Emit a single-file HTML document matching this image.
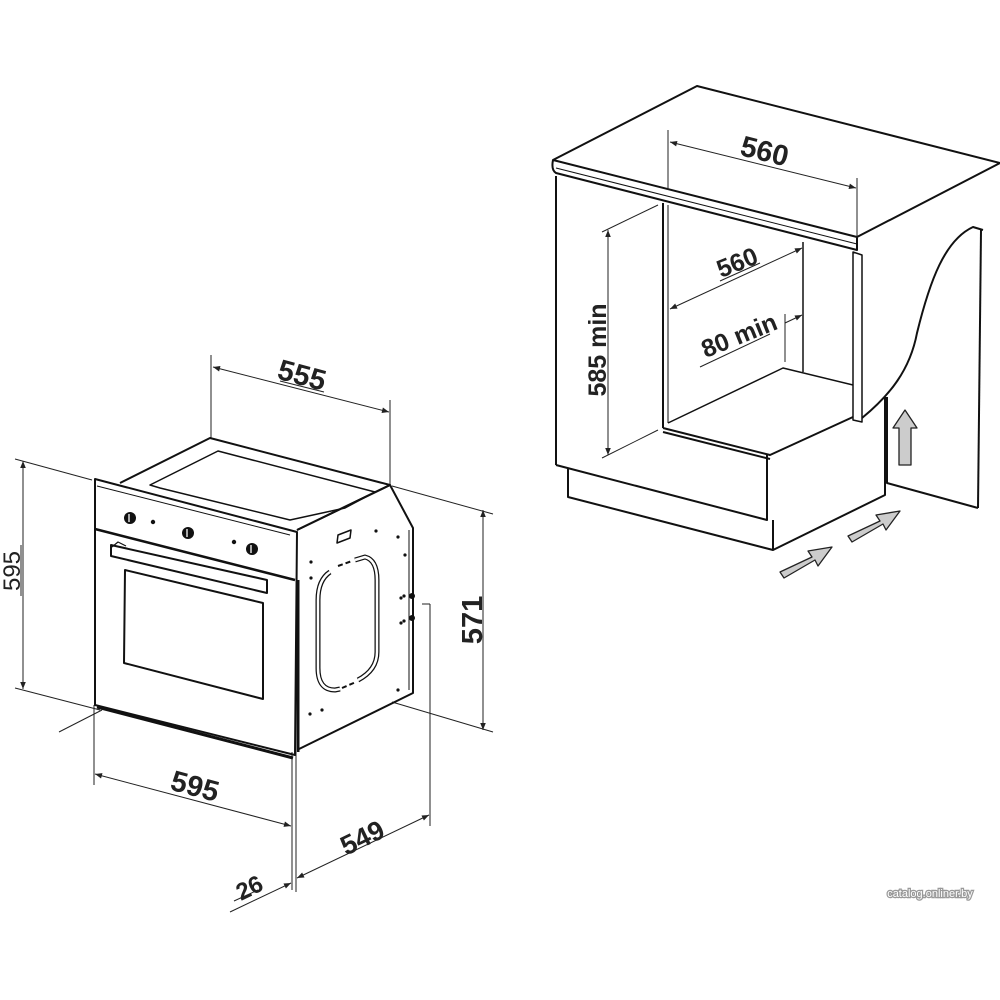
<!DOCTYPE html>
<html><head><meta charset="utf-8"><style>
html,body{margin:0;padding:0;background:#fff}
svg{display:block}
text{font-family:"Liberation Sans",sans-serif;font-weight:bold;fill:#222}
</style></head><body>
<svg width="1000" height="1000" viewBox="0 0 1000 1000" xmlns="http://www.w3.org/2000/svg">
<defs>
<marker id="a" viewBox="0 0 10 10" refX="10" refY="5" markerWidth="12" markerHeight="7" orient="auto-start-reverse" markerUnits="userSpaceOnUse"><path d="M0,1 L10,5 L0,9 z" fill="#222"/></marker>
</defs>
<g fill="none" stroke="#222" stroke-width="1">
<line x1="211" y1="355" x2="211" y2="438"/>
<line x1="390" y1="400" x2="390" y2="485"/>
<line x1="213" y1="367" x2="389" y2="412" marker-start="url(#a)" marker-end="url(#a)"/>
<line x1="280" y1="381" x2="324" y2="392"/>
<line x1="15" y1="459" x2="92" y2="480"/>
<line x1="15" y1="688" x2="100" y2="710"/>
<line x1="23" y1="461" x2="23" y2="689" marker-start="url(#a)" marker-end="url(#a)"/>
<line x1="21" y1="545" x2="21" y2="596"/>
<line x1="392" y1="486" x2="493" y2="514"/>
<line x1="392" y1="702" x2="493" y2="732"/>
<line x1="483" y1="510" x2="483" y2="730" marker-start="url(#a)" marker-end="url(#a)"/>
<line x1="422" y1="604" x2="430" y2="604"/>
<line x1="430" y1="604" x2="430" y2="826"/>
<line x1="59" y1="732" x2="102" y2="710"/>
<line x1="94" y1="705" x2="94" y2="785"/>
<line x1="292" y1="752" x2="292" y2="890"/>
<line x1="296" y1="752" x2="296" y2="892"/>
<line x1="95" y1="774" x2="291" y2="826" marker-start="url(#a)" marker-end="url(#a)"/>
<line x1="297" y1="878" x2="429" y2="815" marker-start="url(#a)" marker-end="url(#a)"/>
<line x1="230" y1="912" x2="291" y2="883" marker-end="url(#a)"/>
<line x1="234" y1="901" x2="258" y2="890"/>
</g>
<text x="302" y="385" font-size="29" transform="rotate(15 302 375)" text-anchor="middle">555</text>
<text x="0" y="0" font-size="24" style="font-weight:normal" transform="translate(20 571) rotate(-90)" text-anchor="middle">595</text>
<text x="0" y="0" font-size="29" transform="translate(482 620) rotate(-90)" text-anchor="middle">571</text>
<text x="195" y="796" font-size="29" transform="rotate(15 195 786)" text-anchor="middle">595</text>
<text x="362" y="847" font-size="27" transform="rotate(-26 362 837)" text-anchor="middle">549</text>
<text x="249" y="896" font-size="24" transform="rotate(-26 249 887)" text-anchor="middle">26</text>

<g fill="none" stroke="#111" stroke-width="2" stroke-linejoin="round">
<path d="M120,483 L210,438 L390,485 L297,530"/>
<path d="M150,485 L218,451 L375,492 L345,508 L290,520 L160,488 Z" stroke-width="1.5"/>
<path d="M95,479 L297,532 L295,755 L95,705 Z"/>
<line x1="95" y1="529" x2="295" y2="580" stroke-width="2.5"/>
<line x1="97" y1="486" x2="290" y2="535" stroke-width="1"/>
<line x1="97" y1="707" x2="293" y2="758" stroke-width="3"/>
<path d="M125,570 L263,603 L263,699 L124,663 Z"/>
<path d="M111,545 L267,580 L267,593 L111,556 Z"/>
<path d="M112,547 L118,542 L126,546" stroke-width="1.2"/>
<path d="M297,530 L390,485 L413,528 L413,693 L297,750"/>
<line x1="409" y1="530" x2="409" y2="690" stroke-width="1"/>
<line x1="298" y1="580" x2="298" y2="752" stroke-width="3"/>
<path d="M337,543 L350,538 L351,530 L338,535 Z" stroke-width="1.5"/>
<path d="M330,572 Q318,580 318,600 L318,668 Q318,690 335,690 L340,689 M358,680 Q377,670 377,652 L377,580 Q377,560 365,557 L355,560" stroke-width="5"/>
<path d="M330,572 Q318,580 318,600 L318,668 Q318,690 335,690 L340,689 M358,680 Q377,670 377,652 L377,580 Q377,560 365,557 L355,560" stroke="#fff" stroke-width="2.5"/>
<line x1="338" y1="566" x2="352" y2="561" stroke-dasharray="5 3"/>
<line x1="342" y1="688" x2="356" y2="682" stroke-dasharray="5 3"/>
</g>
<g fill="#111">
<circle cx="130" cy="518" r="6"/><circle cx="188" cy="533" r="6"/><circle cx="252" cy="549" r="6"/>
<circle cx="153" cy="522" r="2.2"/><circle cx="234" cy="542" r="2.2"/>
<circle cx="311" cy="562" r="1.6"/><circle cx="311" cy="578" r="1.6"/><circle cx="376" cy="531" r="1.6"/><circle cx="398" cy="537" r="1.6"/><circle cx="405" cy="555" r="1.6"/>
<circle cx="401" cy="598" r="1.6"/><circle cx="404" cy="596" r="1.6"/><circle cx="401" cy="623" r="1.6"/><circle cx="404" cy="621" r="1.6"/>
<circle cx="398" cy="690" r="1.6"/><circle cx="310" cy="714" r="1.6"/><circle cx="322" cy="710" r="1.6"/>
<circle cx="412" cy="596" r="3"/><circle cx="412" cy="618" r="3"/>
</g>
<g stroke="#fff" stroke-width="1.3"><line x1="129" y1="514" x2="129" y2="522"/><line x1="187" y1="529" x2="187" y2="537"/><line x1="251" y1="545" x2="251" y2="553"/></g>

<g fill="none" stroke="#111" stroke-width="2" stroke-linejoin="round">
<path d="M553,160 L697,86 L1000,163 L857,237 Z"/>
<path d="M553,160 Q551,170 556,173 L857,250 L857,237"/>
<line x1="556" y1="168" x2="857" y2="244" stroke-width="1"/>
<line x1="556" y1="176" x2="556" y2="465"/>
<path d="M556,465 L767,520 L767,455"/>
<path d="M568,468 L568,497 L773,550 L885,495 L885,397"/>
<line x1="773" y1="520" x2="773" y2="550"/>
<line x1="663" y1="203" x2="663" y2="428"/>
<line x1="668" y1="205" x2="668" y2="423" stroke-width="1"/>
<line x1="803" y1="242" x2="803" y2="372" stroke-width="1.5"/>
<path d="M668,423 L783,368 L853,385" stroke-width="1.5"/>
<path d="M663,428 L770,455 L853,417" stroke-width="2"/>
<line x1="663" y1="432" x2="770" y2="459" stroke-width="2"/>
<path d="M853,252 L862,255 L862,422 L853,420 Z" stroke-width="1.5"/>
<path d="M862,418 C890,395 910,370 917,333 C930,280 945,240 973,227 L983,230"/>
<line x1="981" y1="230" x2="978" y2="508"/>
<path d="M887,397 L887,483 L978,508"/>
</g>
<g fill="none" stroke="#222" stroke-width="1">
<line x1="668" y1="130" x2="668" y2="190"/>
<line x1="857" y1="178" x2="857" y2="238"/>
<line x1="670" y1="142" x2="856" y2="188" marker-start="url(#a)" marker-end="url(#a)"/>
<line x1="670" y1="309" x2="802" y2="248" marker-start="url(#a)" marker-end="url(#a)"/>
<line x1="720" y1="281" x2="760" y2="263"/>
<line x1="700" y1="367" x2="770" y2="334"/>
<line x1="785" y1="314" x2="785" y2="362"/>
<line x1="785" y1="323" x2="802" y2="315" marker-end="url(#a)"/>
<line x1="602" y1="232" x2="658" y2="205"/>
<line x1="602" y1="458" x2="658" y2="430"/>
<line x1="608" y1="230" x2="608" y2="455" marker-start="url(#a)" marker-end="url(#a)"/>
</g>
<text x="765" y="161" font-size="29" transform="rotate(14 765 150)" text-anchor="middle">560</text>
<text x="737" y="271" font-size="25" transform="rotate(-22 737 262)" text-anchor="middle">560</text>
<text x="739" y="344" font-size="25" transform="rotate(-22 739 335)" text-anchor="middle">80 min</text>
<text x="0" y="0" font-size="25" transform="translate(606 350) rotate(-90)" text-anchor="middle">585 min</text>
<g fill="#ccc" stroke="#222" stroke-width="1.3" stroke-linejoin="round">
<path d="M899,465 L899,428 L893,428 L905,410 L917,428 L911,428 L911,465 Z"/>
<path d="M780,572 L812,557 L808,551 L832,547 L818,566 L815,560 L784,578 Z"/>
<path d="M848,536 L880,521 L876,515 L900,511 L886,530 L883,524 L852,542 Z"/>
</g>
<text x="930" y="897" font-size="11" style="font-weight:normal;fill:#fff;stroke:#999;stroke-width:2.5;paint-order:stroke" text-anchor="middle">catalog.onliner.by</text>
</svg>
</body></html>
